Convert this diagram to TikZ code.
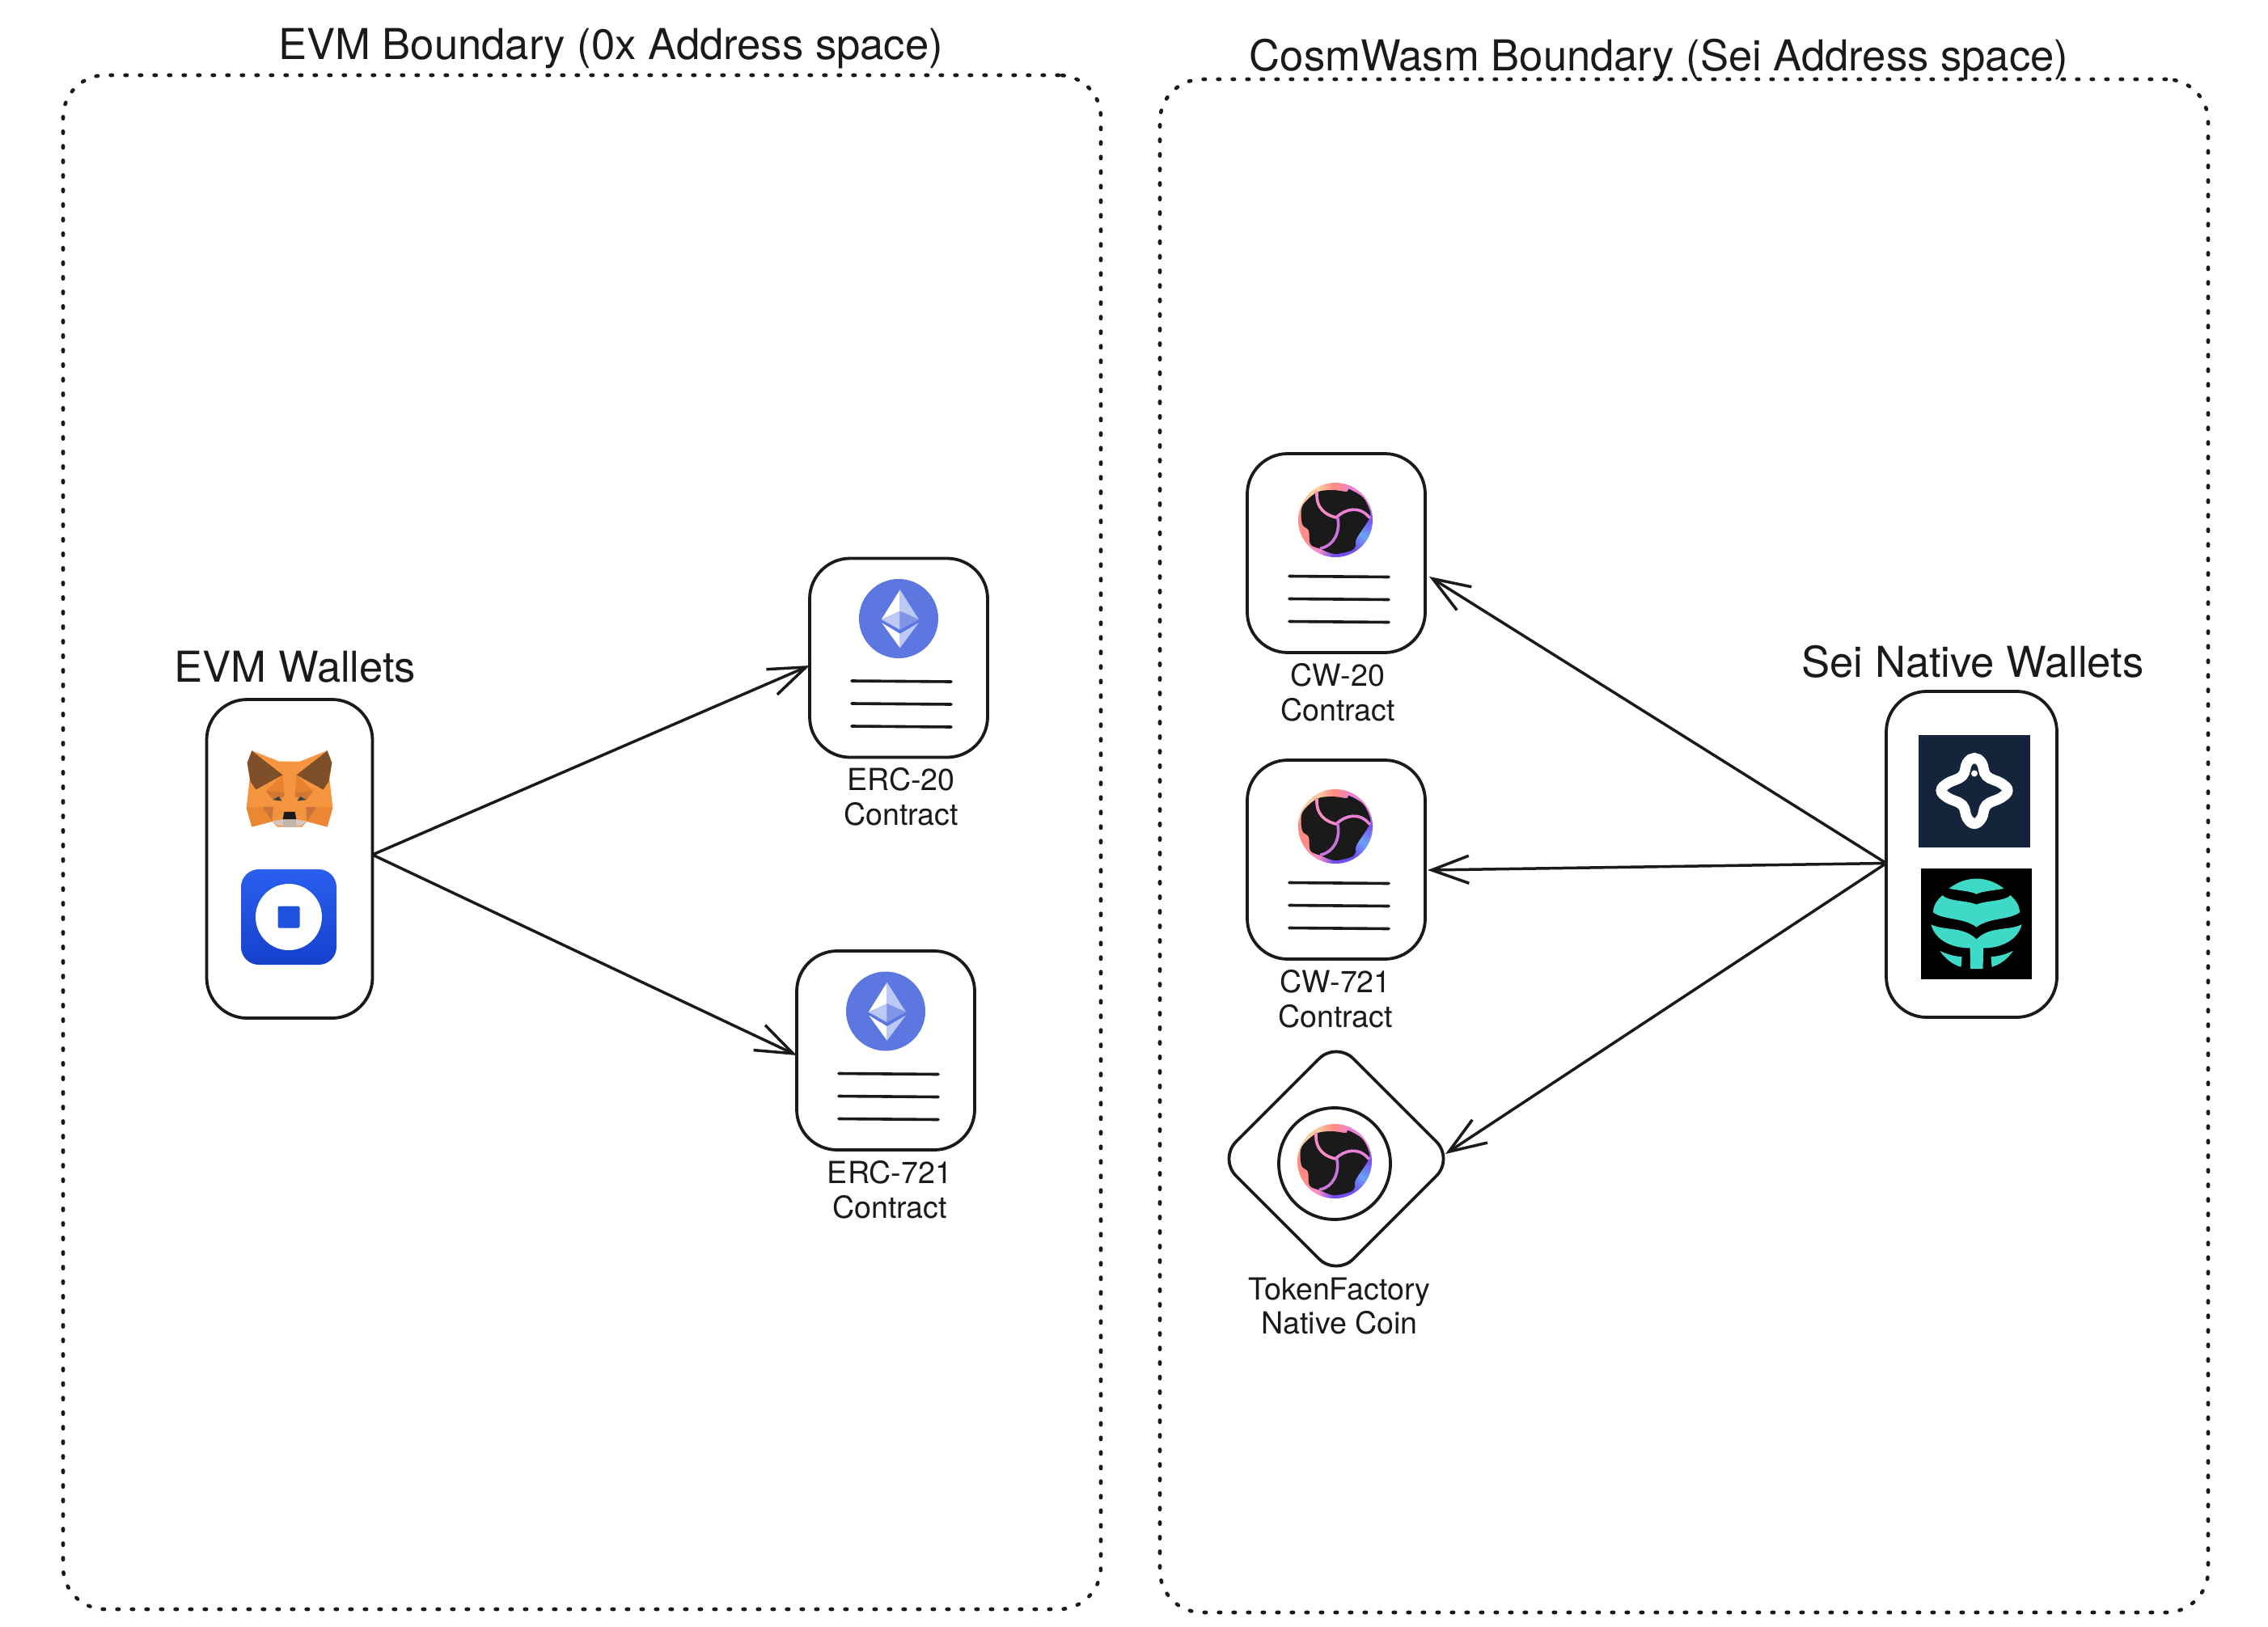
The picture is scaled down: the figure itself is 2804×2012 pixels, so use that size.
\documentclass[tikz,border=0pt]{standalone}
\usepackage{fontspec}
\setmainfont{TeX Gyre Heros}
\usetikzlibrary{shapes,arrows,positioning,arrows.meta}
\definecolor{ink}{HTML}{1A1A1A}
\definecolor{ethblue}{HTML}{5C77E0}
\definecolor{ethpale}{HTML}{BCC9F4}
\definecolor{ethmid}{HTML}{7F95E8}
\definecolor{seiA}{HTML}{FBCB9F}
\definecolor{seiB}{HTML}{FF8C86}
\definecolor{seiC}{HTML}{EA80D8}
\definecolor{seiD}{HTML}{7A58F4}
\definecolor{seiE}{HTML}{6A9CFA}
\definecolor{seiF}{HTML}{7250F0}
\definecolor{seiG}{HTML}{F88CC4}
\definecolor{foxA}{HTML}{F5953F}
\definecolor{foxB}{HTML}{E8822F}
\definecolor{foxC}{HTML}{C8743A}
\definecolor{foxD}{HTML}{7F4F2A}
\definecolor{snoutA}{HTML}{D6C7BC}
\definecolor{snoutB}{HTML}{C5B5A8}
\definecolor{coinA}{HTML}{2B5FEF}
\definecolor{coinB}{HTML}{1540CC}
\definecolor{coinC}{HTML}{2050DE}
\definecolor{keplrbg}{HTML}{14243A}
\definecolor{whaleteal}{HTML}{3FD9C8}

\tikzset{
    % facets of the Ethereum diamond
    ethlogo/.pic={
        \fill[ethblue] (0,0) circle (49);
        \fill[white] (1.7,-35.7) -- (-21.3,1) -- (1.7,-9.3) -- cycle;
        \fill[ethpale] (1.7,-35.7) -- (25,1) -- (1.7,-9.3) -- cycle;
        \fill[ethpale] (-21.3,1) -- (1.7,-9.3) -- (1.7,13.7) -- cycle;
        \fill[ethmid] (25,1) -- (1.7,-9.3) -- (1.7,13.7) -- cycle;
        \fill[white] (-20.7,5.3) -- (1.7,18.7) -- (1.7,36.3) -- cycle;
        \fill[ethpale] (24.7,5.3) -- (1.7,18.7) -- (1.7,36.3) -- cycle;
    },
    % gradient ring, dark blob, swirl
    seilogo/.pic={
        \foreach \ang/\cola/\colb in {-90/seiB/seiC, -60/seiC/seiC, -30/seiC/seiD, 0/seiD/seiE, 30/seiE/seiF, 60/seiF/seiF, 90/seiF/seiG, 120/seiG/seiB, 150/seiB/seiB, 180/seiB/seiA, 210/seiA/seiA, 240/seiA/seiB} {
            \foreach \t in {0,...,5} {
                \pgfmathsetmacro\pct{100-\t*20}
                \fill[\cola!\pct!\colb] (0,0) -- (\ang+\t*5:46) -- (\ang+\t*5+3:46) -- (\ang+\t*5+6.2:46) -- cycle;
            }
        }
        \fill[ink] plot[smooth cycle, tension=0.55] coordinates {(-23,-34) (-4,-37) (14,-35) (17,-38) (34,-28) (42,-13) (42,-2) (26,23) (25,32) (19,38) (-1,42) (-18,36) (-31,30) (-33,13) (-41,5) (-41,-17)};
        \draw[seiG,line width=3.6pt,line cap=round] (1,-3) .. controls (-12,-6) and (-24,-14) .. (-23,-34);
        \draw[seiC,line width=3.6pt,line cap=round] (1,-3) .. controls (12,-14) and (30,-18) .. (42,-3);
        \draw[seiF!25!seiC,line width=3.6pt,line cap=round] (3,-2) .. controls (6,15) and (-2,32) .. (-18,35);
    },
    doclines/.pic={
        \foreach \dy in {28.5,56.5,84.5}
            \draw[ink,line width=3.6pt,line cap=round] (-58,\dy) -- (65,\dy+1);
    },
    foxlogo/.pic={
        \begin{scope}[scale=1/3]
        \foreach \s in {1,-1} {
            \begin{scope}[xscale=\s]
                \fill[foxA] (0,-102) -- (-40,-102) -- (-157,-97) -- (-148,-37) -- (-160,70) -- (-140,141) -- (-65,121) -- (-45,141) -- (0,141) -- cycle;
                \fill[foxD] (-140,-142) -- (-25,-52) -- (-125,3) -- (-145,-27) -- (-157,-97) -- cycle;
                \fill[foxA] (-40,-102) -- (-25,-52) -- (-140,-142) -- cycle;
                \fill[foxB] (-25,-52) -- (-88,8) -- (-20,13) -- cycle;
                \fill[foxC!70!foxB] (-88,8) -- (-20,13) -- (-20,30) -- (-60,42) -- cycle;
                \fill[foxB!80!foxA] (-160,70) -- (-100,66) -- (-65,121) -- (-140,141) -- cycle;
                \fill[foxC] (-100,66) -- (-60,68) -- (-65,121) -- cycle;
                \fill[foxA!85!foxB] (-60,68) -- (-20,85) -- (-65,121) -- cycle;
                \fill[black!75] (-62,41) -- (-40,28) -- (-28,45) -- cycle;
                \fill[snoutA] (-65,121) -- (-25,113) -- (0,113) -- (0,141) -- (-45,135) -- cycle;
                \fill[snoutB] (-25,113) -- (0,113) -- (0,141) -- (-25,141) -- cycle;
                \fill[ink] (0,85) -- (-20,85) -- (-25,113) -- (0,113) -- cycle;
            \end{scope}
        }
        \end{scope}
    },
    coinlogo/.pic={
        \shade[top color=coinA,bottom color=coinB,rounded corners=22pt] (-59,-59) rectangle (59,59);
        \fill[white] (0,0) circle (41);
        \fill[coinC,rounded corners=2pt] (-13.5,-13.5) rectangle (13.5,13.5);
    },
    keplrlogo/.pic={
        \fill[keplrbg] (-69,-69) rectangle (69,70);
        \draw[white,line width=13pt] plot[smooth cycle, tension=0.7] coordinates {(0,-40) (9,-34) (15,-18) (33,-9) (41,0) (33,9) (15,18) (9,34) (0,41) (-9,34) (-15,18) (-33,9) (-41,0) (-33,-9) (-15,-18) (-9,-34)};
        \fill[white] (0,-21) circle (4);
    },
    whalelogo/.pic={
        \fill[black] (-68.5,-68.5) rectangle (68.5,68.5);
        \begin{scope}[scale=1/3]
        \fill[whaleteal] (-102,-131) .. controls (-40,-180) and (40,-180) .. (102,-131) .. controls (50,-122) and (15,-120) .. (0,-110) .. controls (-15,-120) and (-50,-122) .. cycle;
        \fill[whaleteal] (-126,-106) .. controls (-104,-83) and (-40,-88) .. (0,-72) .. controls (40,-88) and (104,-83) .. (126,-106) .. controls (150,-85) and (160,-65) .. (161,-43) .. controls (120,-13) and (50,-25) .. (0,12) .. controls (-50,-25) and (-120,-13) .. (-161,-43) .. controls (-160,-65) and (-150,-85) .. cycle;
        \fill[whaleteal] (-168,2) .. controls (-120,27) and (-50,7) .. (0,57) .. controls (50,7) and (120,27) .. (168,2) .. controls (155,60) and (90,90) .. (26,90) -- (24,167) -- (-22,167) -- (-24,90) .. controls (-90,90) and (-155,60) .. cycle;
        \foreach \s in {1,-1} {
            \fill[whaleteal,xscale=\s] (-136,100) .. controls (-110,112) and (-85,120) .. (-54,122) -- (-57,160) .. controls (-90,150) and (-115,130) .. cycle;
        }
        \end{scope}
    }
}

\begin{document}
\begin{tikzpicture}[
    x=1pt, y=-1pt,
    boundary/.style={rectangle, draw=ink, rounded corners=52pt, line width=4.6pt, line cap=round, dash pattern=on 2.4pt off 15.6pt, inner sep=0pt, outer sep=0pt},
    token/.style={rectangle, draw=ink, rounded corners=50pt, line width=3.8pt, minimum width=220pt, minimum height=246pt, inner sep=0pt, outer sep=0pt},
    wallet/.style={rectangle, draw=ink, rounded corners=50pt, line width=3.8pt, inner sep=0pt, outer sep=0pt},
    bigtext/.style={text=ink, font=\fontsize{52.6}{60}\selectfont, anchor=base, inner sep=0pt},
    smalltext/.style={text=ink, font=\fontsize{37.6}{42.7}\selectfont, align=center, inner sep=0pt},
    link/.style={draw=ink, line width=3.5pt, -{Straight Barb[length=46pt,width=34pt]}}
]
    \path[fill=white,use as bounding box] (0,0) rectangle (2804,2012);

    % Boundaries
    \node[boundary, minimum width=1283pt, minimum height=1897pt] (evmzone) at (719.5,1041.5) {};
    \node[boundary, minimum width=1296pt, minimum height=1896pt] (cwzone) at (2082,1046) {};
    \node[bigtext] (evmtitle) at (755,74) {EVM Boundary (0x Address space)};
    \node[bigtext] (cwtitle) at (2051,88) {CosmWasm Boundary (Sei Address space)};

    % EVM side
    \node[wallet, minimum width=205pt, minimum height=394pt] (evmwallet) at (358,1062) {};
    \node[bigtext] (evmlabel) at (365,843) {EVM Wallets};
    \pic at (358,975.5) {foxlogo};
    \pic at (357,1134) {coinlogo};

    \node[token] (erc20) at (1111,813.5) {};
    \node[token] (erc721) at (1095,1299) {};
    \node[smalltext] (erc20label) at (1114,985.5) {ERC-20\\Contract};
    \node[smalltext] (erc721label) at (1100,1471.5) {ERC-721\\Contract};
    \pic at (1111,765) {ethlogo};
    \pic at (1095,1250.5) {ethlogo};

    % CosmWasm side
    \node[token] (cw20) at (1652,684) {};
    \node[token] (cw721) at (1652,1063) {};
    \node[diamond, aspect=1, draw=ink, rounded corners=30pt, line width=3.8pt, minimum width=290pt, minimum height=290pt, inner sep=0pt, outer sep=0pt] (tfcoin) at (1652,1433) {};
    \node[circle, draw=ink, line width=3.8pt, minimum size=138pt, inner sep=0pt, outer sep=0pt] (tfring) at (1650,1439) {};
    \node[smalltext] (cw20label) at (1654,856.5) {CW-20\\Contract};
    \node[smalltext] (cw721label) at (1651,1235.5) {CW-721\\Contract};
    \node[smalltext] (tflabel) at (1656,1615) {TokenFactory\\Native Coin};
    \pic at (1651,643) {seilogo};
    \pic at (1651,1022) {seilogo};
    \pic at (1650,1436) {seilogo};

    \node[wallet, minimum width=211pt, minimum height=403pt] (seiwallet) at (2437.5,1056.5) {};
    \node[bigtext] (seilabel) at (2439,837) {Sei Native Wallets};
    \pic at (2441,977.5) {keplrlogo};
    \pic at (2443.5,1142.5) {whalelogo};

    % Contract lines
    \foreach \n in {erc20, erc721, cw20, cw721} {
        \pic at (\n) {doclines};
    }

    % Arrows
    \draw[link] ([yshift=5pt]evmwallet.east) -- ([yshift=-9.5pt]erc20.west);
    \draw[link] ([yshift=5pt]evmwallet.east) -- ([yshift=-6pt]erc721.west);
    \draw[link] ([yshift=-11pt]seiwallet.west) -- ([xshift=5pt,yshift=-29pt]cw20.east);
    \draw[link] ([yshift=-11pt]seiwallet.west) -- ([xshift=3pt,yshift=-13pt]cw721.east);
    \draw[link] ([yshift=-11pt]seiwallet.west) -- ([xshift=-10pt,yshift=6pt]tfcoin.east);
\end{tikzpicture}
\end{document}
